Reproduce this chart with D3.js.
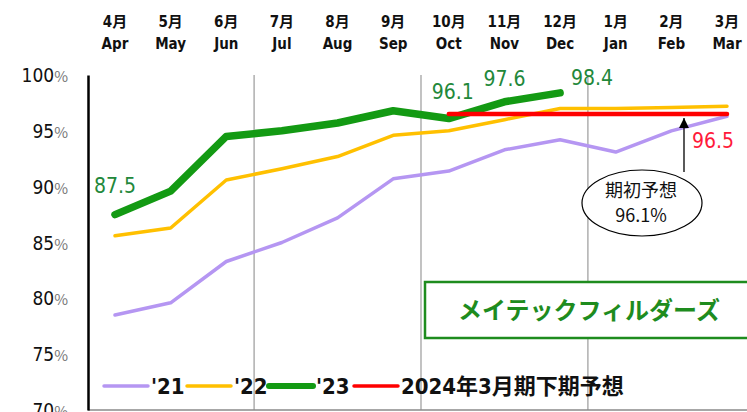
<!DOCTYPE html>
<html lang="ja">
<head>
<meta charset="utf-8">
<title>稼働率</title>
<script src="https://cdn.jsdelivr.net/npm/d3@7"></script>
<style>
  body { margin: 0; background: #fff; }
  svg { display: block; }
  .cond { font-family: "DejaVu Sans Condensed", "Noto Sans CJK JP", sans-serif; font-stretch: condensed; }
  .jp { font-family: "Noto Sans CJK JP", sans-serif; }
</style>
</head>
<body>
<div id="vis"></div>
<script>

// month labels (JP / EN)
var monthsJp = ['4月', '5月', '6月', '7月', '8月', '9月', '10月', '11月', '12月', '1月', '2月', '3月'];
var monthsEn = ['Apr', 'May', 'Jun', 'Jul', 'Aug', 'Sep', 'Oct', 'Nov', 'Dec', 'Jan', 'Feb', 'Mar'];

// series values (%)
var fy21 = [78.5, 79.6, 83.3, 85.0, 87.2, 90.7, 91.4, 93.3, 94.2, 93.1, 95.0, 96.3];
var fy22 = [85.6, 86.3, 90.6, 91.6, 92.7, 94.6, 95.0, 96.0, 97.0, 97.0, 97.1, 97.2];
var fy23 = [87.5, 89.6, 94.5, 95.0, 95.7, 96.8, 96.1, 97.6, 98.4];
var forecast = [96.5, 96.5, 96.5, 96.5, 96.5, 96.5]; // Oct .. Mar

var yTicks = [100, 95, 90, 85, 80, 75, 70];
var legendLabels = ["'21", "'22", "'23", '2024年3月期下期予想'];

var W = 747, H = 412;

var svg = d3.select('#vis').append('svg')
    .attr('width', W)
    .attr('height', H);

/* Scales */
var x = d3.scalePoint().domain(monthsEn).range([115, 727]);
var y = d3.scaleLinear().domain([70, 100]).range([410, 75]);
var step = x.step();

/* Quarter grid lines */
['Jun', 'Sep', 'Dec'].forEach(function(m) {
  svg.append('line')
      .attr('x1', x(m) + step / 2).attr('x2', x(m) + step / 2)
      .attr('y1', y(100)).attr('y2', y(70))
      .attr('stroke', '#9a9a9a').attr('stroke-width', 1.2);
});

// bottom line
svg.append('line')
    .attr('x1', 88).attr('x2', W)
    .attr('y1', y(70)).attr('y2', y(70))
    .attr('stroke', '#8a8a8a').attr('stroke-width', 1.5);

// y axis
var yAxis = d3.axisLeft(y).tickValues(yTicks).tickSize(0).tickPadding(0).tickFormat('');
var yAxisG = svg.append('g')
    .attr('transform', 'translate(88,0)')
    .call(yAxis);
yAxisG.select('.domain').attr('stroke', '#000').attr('stroke-width', 2.5);

var yLab = svg.append('g').selectAll('text')
  .data(yTicks).enter()
  .append('text')
    .attr('class', 'cond')
    .attr('x', 68)
    .attr('y', function(d) { return y(d) + 7; })
    .attr('text-anchor', 'end')
    .attr('font-size', 19)
    .attr('fill', '#111');
yLab.append('tspan').text(function(d) { return d; });
yLab.append('tspan')
    .attr('class', 'jp')
    .attr('font-size', 15)
    .attr('fill', '#777')
    .text('%');

/* Month labels on top */
var mg = svg.append('g').attr('class', 'cond').attr('font-weight', 'bold').attr('fill', '#111');
mg.selectAll('.jpm').data(monthsJp).enter()
  .append('text')
    .attr('x', function(d, i) { return x(monthsEn[i]); })
    .attr('y', 27)
    .attr('text-anchor', 'middle')
    .attr('font-size', 15)
    .text(function(d) { return d; });
mg.selectAll('.enm').data(monthsEn).enter()
  .append('text')
    .attr('x', function(d) { return x(d); })
    .attr('y', 49)
    .attr('text-anchor', 'middle')
    .attr('font-size', 15)
    .text(function(d) { return d; });

/* Lines */
var line = d3.line()
    .x(function(d) { return x(d.m); })
    .y(function(d) { return y(d.v); });

function pts(vals, offset) {
  return vals.map(function(v, i) { return { m: monthsEn[i + (offset || 0)], v: v }; });
}

var series = [
  { vals: pts(fy21), color: '#b596f2', width: 3.5 },
  { vals: pts(fy22), color: '#ffc000', width: 3.5 },
  { vals: pts(fy23), color: '#139a13', width: 7.5 },
  { vals: pts(forecast, 6), color: '#ff0000', width: 4.5 }
];

series.forEach(function(s) {
  svg.append('path')
      .datum(s.vals)
      .attr('d', line)
      .attr('fill', 'none')
      .attr('stroke', s.color)
      .attr('stroke-width', s.width)
      .attr('stroke-linecap', 'round')
      .attr('stroke-linejoin', 'round');
});

/* Value labels */
var green = '#22883a';
var lab = [
  { m: 'Apr', v: fy23[0], dx: 0, dy: -22, c: green },
  { m: 'Oct', v: fy23[6], dx: 4, dy: -20, c: green },
  { m: 'Nov', v: fy23[7], dx: 0, dy: -16, c: green },
  { m: 'Dec', v: fy23[8], dx: 32, dy: -8, c: green },
  { m: 'Mar', v: forecast[5], dx: -14, dy: 34, c: '#ff1a3a' }
];
svg.append('g').selectAll('text')
  .data(lab).enter()
  .append('text')
    .attr('class', 'cond')
    .attr('x', function(d) { return x(d.m) + d.dx; })
    .attr('y', function(d) { return y(d.v) + d.dy; })
    .attr('text-anchor', 'middle')
    .attr('font-size', 21)
    .attr('fill', function(d) { return d.c; })
    .text(function(d) { return d.v.toFixed(1); });

/* Annotation: initial forecast */
svg.append('defs').append('marker')
    .attr('id', 'arr')
    .attr('viewBox', '0 0 10 10')
    .attr('refX', 10).attr('refY', 5)
    .attr('markerWidth', 10).attr('markerHeight', 10)
    .attr('markerUnits', 'userSpaceOnUse')
    .attr('orient', 'auto')
  .append('path')
    .attr('d', 'M0,0L10,5L0,10Z')
    .attr('fill', '#000');

var ax = 684;
svg.append('line')
    .attr('x1', ax).attr('x2', ax)
    .attr('y1', 172).attr('y2', y(forecast[5]) + 4)
    .attr('stroke', '#000').attr('stroke-width', 1.3)
    .attr('marker-end', 'url(#arr)');

svg.append('ellipse')
    .attr('cx', 642).attr('cy', 203)
    .attr('rx', 60).attr('ry', 33)
    .attr('fill', '#fff')
    .attr('stroke', '#000').attr('stroke-width', 1.2);

svg.append('text')
    .attr('class', 'jp')
    .attr('x', 641).attr('y', 197)
    .attr('text-anchor', 'middle')
    .attr('font-size', 18)
    .attr('fill', '#111')
    .text('期初予想');
svg.append('text')
    .attr('class', 'jp')
    .attr('x', 641).attr('y', 222)
    .attr('text-anchor', 'middle')
    .attr('font-size', 18)
    .attr('fill', '#111')
    .text('96.1%');

/* Company box */
svg.append('rect')
    .attr('x', 425).attr('y', 282)
    .attr('width', 330).attr('height', 56)
    .attr('fill', '#fff')
    .attr('stroke', '#1e8c1e').attr('stroke-width', 2.5);
svg.append('text')
    .attr('class', 'jp')
    .attr('x', 589).attr('y', 319)
    .attr('text-anchor', 'middle')
    .attr('font-size', 24)
    .attr('font-weight', 'bold')
    .attr('fill', '#1e8c1e')
    .text('メイテックフィルダーズ');

/* Legend */
var legendX = [104, 187, 269, 354];
var lg = svg.append('g');
series.forEach(function(s, i) {
  lg.append('line')
      .attr('x1', legendX[i]).attr('x2', legendX[i] + 44)
      .attr('y1', 386).attr('y2', 386)
      .attr('stroke', s.color)
      .attr('stroke-width', i === 2 ? 6 : 3.5)
      .attr('stroke-linecap', 'round');
  lg.append('text')
      .attr('class', 'cond')
      .attr('x', legendX[i] + 47)
      .attr('y', 394)
      .attr('font-size', 22)
      .attr('font-weight', 'bold')
      .attr('fill', '#111')
      .text(legendLabels[i]);
});

</script>
</body>
</html>
